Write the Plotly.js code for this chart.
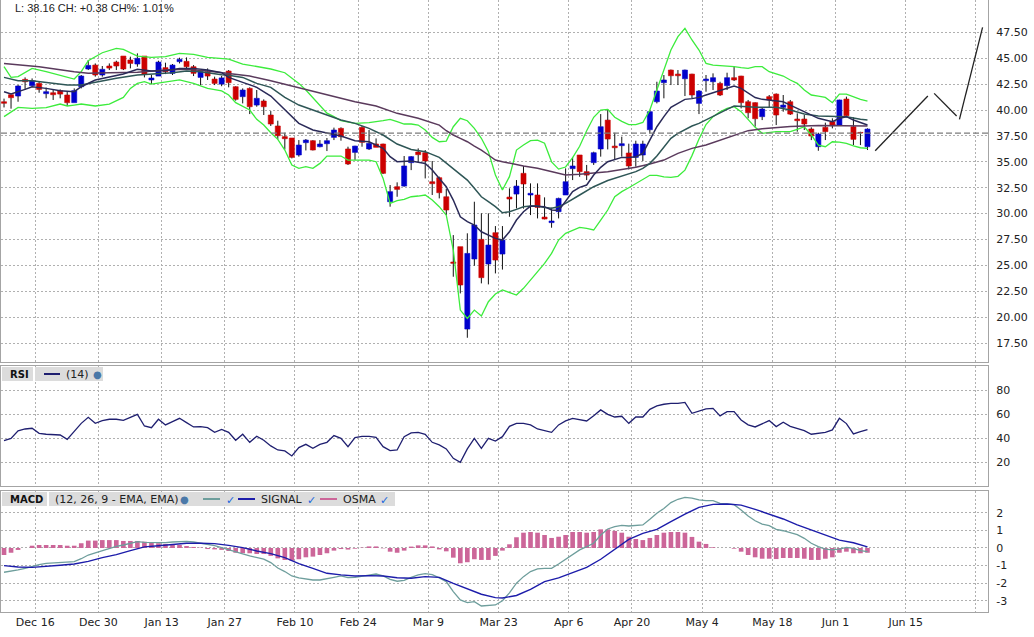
<!DOCTYPE html>
<html>
<head>
<meta charset="utf-8">
<script src="https://cdn.plot.ly/plotly-3.0.1.min.js"></script>
<style>
  html, body { margin: 0; padding: 0; background: #fff; }
  #chart { width: 1034px; height: 637px; }
</style>
</head>
<body>
<div id="chart"></div>
<script>
// daily candles, Dec 10 2019 .. Jun 8 2020 (one entry per trading day)
const opens = [40.8,41.48,41.35,42.96,42.35,42.57,41.58,41.67,41.87,41.45,
  40.71,42.25,43.96,44.34,43.38,44.25,44.63,45.21,44.83,44.44,
  45.21,42.9,43.28,44.09,43.54,44.67,44.7,44.18,43.15,43.7,
  42.99,42.5,43.76,42.25,41.29,42.09,40.48,40.87,39.52,38.46,
  37.43,37.3,35.66,36.85,37.04,36.46,36.75,37.36,38.23,36.24,
  35.91,38.33,36.24,36.72,36.72,31.15,32.6,32.66,34.92,35.95,
  35.88,33.08,33.47,31.63,25.33,26.81,18.86,25.62,27.52,25.14,
  28.16,26.1,31.6,31.89,33.89,31.8,31.8,29.67,29.13,30.19,
  31.8,34.34,35.66,34.05,34.92,36.24,39.03,36.52,36.56,35.85,
  35.43,35.66,38.1,40.8,42.64,43.86,43.47,43.02,43.47,40.64,
  42.83,42.73,42.57,42.35,43.12,43.28,40.8,40.71,39.36,41.29,
  41.54,40.26,40.8,39.13,39.13,38.17,36.46,38.33,38.87,38.55,
  41.06,38.39,37.84,36.46];
const highs = [41.1,41.5,42.41,43.15,43.05,42.73,42.16,41.93,41.99,41.77,
  42.09,43.38,44.83,44.5,44.25,44.5,44.76,45.21,45.15,45.47,
  45.21,43.38,44.76,44.57,44.44,45.05,45.08,44.34,43.86,44.02,
  43.22,43.3,43.86,42.3,42.09,42.19,41.93,41.03,39.9,38.97,
  37.81,37.3,37.1,37.2,37.1,37.1,37.3,38.3,38.33,36.46,
  36.55,38.46,38.07,37.26,36.75,32.76,33.02,35.56,35.56,36.3,
  36.14,35.08,33.57,32.4,27.93,26.81,28.1,31.15,30.03,30.03,
  28.8,28.8,32.44,33.24,34.6,32.92,32.92,31.57,30.57,31.54,
  34.37,35.43,35.66,34.7,35.98,39.61,40.1,37.81,37.43,36.75,
  37.04,37.04,40.03,42.73,43.38,43.9,43.86,43.9,43.5,41.93,
  43.38,43.54,42.73,43.6,44.25,43.3,40.97,40.75,40.26,41.45,
  41.6,41.45,40.97,39.68,39.52,38.33,37.81,38.78,39.2,41.0,
  41.29,39.29,37.9,38.23];
const lows = [40.25,40.13,40.8,41.93,42.25,41.67,41.13,40.97,41.13,40.39,
  40.7,42.09,43.86,43.22,43.22,43.86,43.86,43.86,44.02,44.18,
  43.15,42.51,43.28,43.47,43.38,44.5,43.93,43.28,42.41,42.9,
  42.41,42.3,42.19,40.9,40.64,39.61,40.32,39.52,38.46,37.17,
  36.2,35.33,35.5,36.1,36.1,36.4,36.04,37.1,37.04,34.7,
  35.17,36.46,36.14,36.4,33.82,30.67,31.63,32.6,34.2,35.0,
  33.4,31.8,31.47,29.86,23.91,22.3,18.02,24.97,23.27,23.17,
  24.23,24.6,29.7,30.5,30.48,29.86,29.54,29.45,28.64,29.54,
  31.8,33.24,33.56,33.24,34.7,35.5,36.2,35.24,35.5,34.27,
  34.53,35.08,37.75,40.64,41.13,42.41,42.41,41.35,41.13,39.61,
  41.77,41.93,41.35,41.93,42.8,40.16,39.2,38.39,39.03,40.26,
  38.55,39.84,39.52,37.91,38.07,37.1,36.07,37.1,38.23,38.46,
  39.36,36.62,36.62,36.14];
const closes = [40.65,41.19,42.32,42.73,42.83,41.99,41.77,41.48,41.54,40.71,
  41.87,43.28,44.31,43.38,43.93,44.05,44.25,43.96,44.5,44.99,
  43.47,43.09,44.63,43.7,44.34,44.89,44.18,43.54,43.7,43.28,
  42.57,43.1,42.64,41.03,41.93,40.32,41.13,40.32,38.65,37.52,
  37.23,35.43,36.62,37.1,36.14,36.72,37.04,38.07,37.43,34.79,
  36.52,36.88,36.78,36.4,33.89,32.12,32.34,34.6,35.5,35.69,
  35.08,32.89,32.02,30.35,25.2,23.11,26.16,28.9,23.82,26.97,
  25.52,27.45,31.41,32.66,32.86,31.96,30.6,29.48,29.29,31.47,
  33.08,34.6,34.05,33.72,35.88,38.39,37.2,36.36,36.75,34.6,
  36.72,36.72,39.84,41.83,42.9,43.31,43.31,43.86,41.45,41.83,
  42.99,43.12,41.45,43.12,42.9,40.71,39.74,39.16,40.1,40.97,
  39.52,40.48,39.61,38.97,38.65,37.49,37.68,37.91,38.49,40.97,
  39.45,37.17,37.78,38.16];

// overlay lines (candle index -> value)
function range(a, b) { const r = []; for (let i = a; i <= b; i++) r.push(i); return r; }

const bbUpperIdx = [0,1,2,4,6,8,10,11,12,14,16,17,19,21,23,25,27,29,31,32,34,36,38,40,42,43,44,46,47,48,50,52].concat(range(54, 123));
const bbUpper = [44.18,43.15,43.22,44.02,43.7,43.38,42.99,43.7,44.76,45.53,45.95,45.86,45.21,45.08,45.15,45.47,45.37,45.08,44.97,44.92,44.44,44.18,43.96,43.6,42.57,41.93,41.22,39.7,39.36,38.97,38.71,38.78,
  38.97,39.1,38.87,38.65,38.65,38.55,38.07,37.36,36.94,37.0,
  38.39,39.2,38.97,38.23,37.27,35.98,33.73,32.28,33.57,36.14,
  36.62,37.04,37.1,36.8,35.0,34.3,34.5,35.4,36.5,38.0,
  39.3,40.0,40.06,39.3,38.9,38.6,38.6,38.8,40.0,42.0,
  43.86,45.79,47.08,47.88,46.76,45.79,44.5,44.34,44.28,44.25,
  44.18,44.09,44.02,44.18,44.18,43.7,43.47,43.28,42.9,42.57,
  41.93,41.45,41.35,41.22,40.71,41.54,41.54,41.29,41.03,40.87];

const bbLowerIdx = [0,1,2,4,6,8,9,10,11,13,15,17,18,19,20,21,23,25,27,28,29,31,32,33,34,35,36,37,38,39,40,41,42,43,44,45,46,48,49,52,53].concat(range(54, 123));
const bbLower = [39.36,39.84,40.26,40.16,40.23,40.58,40.39,40.48,40.58,40.39,40.58,41.22,42.09,42.57,42.73,42.51,42.73,42.9,42.57,42.32,42.09,41.85,41.45,40.71,40.39,40.0,39.1,38.55,37.81,37.17,36.14,34.69,34.37,34.53,34.37,34.85,35.56,35.56,35.17,35.17,35.01,
  33.4,30.99,31.25,31.38,31.63,31.7,31.8,31.31,30.67,29.85,
  26.49,20.69,19.89,20.69,20.12,21.5,22.24,22.63,22.37,22.14,
  22.79,23.59,24.4,25.2,26.16,27.45,28.1,28.35,28.67,28.58,
  28.42,29.38,30.35,31.63,32.12,32.5,32.9,33.3,33.7,33.7,
  33.55,33.5,33.6,34.2,35.6,37.2,38.6,39.36,39.84,40.16,
  40.32,39.84,39.1,38.33,37.75,37.84,37.91,37.91,37.91,38.13,
  38.39,37.59,36.62,36.46,36.94,36.91,36.78,36.53,36.36,36.3];

const maFastIdx = [0,1,3,4,6,8,10,11,13,15,17,19,21,23,25,27,29,31,32,34,36,38,40,42,44,46,48,50,52,54,55,56,58,60].concat(range(61, 123));
const maFast = [41.77,41.54,41.99,42.25,42.09,41.87,41.77,42.25,42.9,43.22,43.47,43.93,43.76,43.8,44.02,44.02,43.86,43.6,43.15,42.67,42.19,41.35,40.06,38.71,38.07,37.81,37.49,37.04,36.94,36.3,35.5,35.01,35.08,34.85,
  34.21,33.4,32.6,31.31,29.7,29.22,28.9,28.25,27.93,27.61,
  27.45,28.25,29.38,30.19,30.73,30.73,30.67,30.35,30.3,31.2,
  32.12,32.54,32.76,33.73,34.47,35.01,35.24,35.43,35.43,35.5,
  35.82,37.1,38.39,39.36,40.26,40.64,41.03,41.1,41.22,41.45,
  41.67,41.87,42.09,42.32,42.09,41.61,41.2,41.03,40.97,40.9,
  40.8,40.48,40.16,39.84,39.52,39.2,39.03,38.87,39.2,39.36,
  39.03,38.78,38.55];

const maMidIdx = [0,2,4,7,9,11,14,16,19,21,24,26,28,31,32,34,36,38,40,42,44,46,48,50,52,54,56,58,60,62].concat(range(63, 80), [82,84,86,88,90], range(91, 108), [110,112,114,116,118,120,122,123]);
const maMid = [43.15,42.83,42.83,42.57,42.41,42.41,42.83,43.06,43.38,43.44,43.6,43.76,43.7,43.4,43.35,43.15,42.57,42.19,41.22,40.48,40.0,39.52,39.03,38.71,38.23,37.59,36.72,36.2,35.98,35.43,
  34.9,34.37,33.82,33.24,32.44,31.63,31.15,30.67,30.09,30.19,30.41,30.67,30.73,30.73,30.6,30.51,30.67,30.99,
  31.8,32.6,33.2,33.6,34.05,
  34.37,34.85,35.56,36.4,37.27,37.75,38.13,38.46,38.71,39.03,39.36,39.74,40.06,40.39,40.32,40.32,40.26,40.26,
  40.26,40.0,39.61,39.42,39.36,39.36,39.1,39.03];

const maSlowIdx = [0,5,10,12,15,19,23,26,29,32,35,38,41,44,47,50,53,56,59,62,63,64,65,66,67,68,69,70,71,72,74,76,78,80,82,84,86,88,90,92,94,96,98,100,102,104,106,108,112,116,120,123];
const maSlow = [44.5,44.18,43.7,43.54,43.6,43.64,43.86,43.93,43.76,43.5,43.28,42.83,42.32,41.77,41.29,40.8,40.39,39.68,39.2,38.55,38.0,37.59,37.27,36.94,36.52,36.14,35.66,35.17,35.01,34.85,34.6,34.37,34.05,33.73,33.79,33.89,34.05,34.27,34.47,34.79,35.17,35.82,36.3,36.62,37.1,37.59,38.01,38.2,38.4,38.5,38.5,38.45];

// drawn projection to the right of the last candle
const waveIdx = [124.1, 131.6, null, 132.5, 135.7, null, 136.1, 139.4];
const wavePrice = [36.07, 41.35, null, 41.61, 39.42, null, 39.1, 47.98];

// RSI (14)
const rsi = [38.2,40.1,46.3,47.9,48.5,44.3,43.5,43.5,42.9,39.3,
  46.3,52.6,57.6,52.6,54.9,56.0,56.0,55.1,57.6,60.1,
  50.4,49.0,56.0,51.3,54.0,56.8,53.2,49.6,49.9,49.0,
  45.1,47.6,45.1,38.5,43.5,36.8,41.8,38.5,33.8,30.4,
  29.6,25.4,32.4,35.1,31.8,35.1,36.8,42.4,40.1,33.2,
  40.7,41.8,41.8,41.0,33.2,29.9,30.4,41.5,44.6,45.1,
  43.5,36.8,34.6,31.3,23.5,20.1,31.3,40.1,31.8,40.1,
  37.9,41.5,50.1,52.6,52.6,51.3,47.9,46.3,45.1,51.3,
  54.6,56.8,55.4,54.6,59.0,63.8,60.1,57.9,58.5,52.6,
  57.9,57.9,64.3,67.1,68.5,69.3,69.3,70.1,61.0,62.9,
  64.6,65.1,58.8,62.4,62.4,55.4,51.3,49.6,52.6,54.9,
  49.9,53.5,50.1,48.5,46.5,43.5,44.0,45.1,47.1,56.8,
  52.4,43.8,45.7,47.4];

// MACD (12, 26, 9)
const macd = [-1.38,-1.33,-1.25,-1.16,-1.04,-0.95,-0.87,-0.85,-0.83,-0.81,
  -0.78,-0.61,-0.40,-0.28,-0.15,-0.02,0.09,0.17,0.27,0.36,
  0.32,0.30,0.30,0.30,0.34,0.38,0.38,0.34,0.28,0.21,
  0.13,0.02,-0.11,-0.25,-0.34,-0.45,-0.53,-0.63,-0.83,-1.14,
  -1.34,-1.59,-1.70,-1.78,-1.82,-1.82,-1.76,-1.67,-1.59,-1.69,
  -1.67,-1.61,-1.53,-1.48,-1.59,-1.78,-1.89,-1.84,-1.67,-1.53,
  -1.46,-1.52,-1.70,-1.91,-2.48,-2.95,-3.11,-3.05,-3.30,-3.28,
  -3.24,-3.0,-2.55,-2.0,-1.63,-1.34,-1.19,-1.16,-1.16,-0.91,
  -0.63,-0.34,-0.11,0.08,0.27,0.74,1.08,1.21,1.29,1.25,
  1.27,1.31,1.63,1.97,2.25,2.58,2.77,2.88,2.84,2.73,
  2.69,2.69,2.54,2.50,2.46,2.16,1.82,1.55,1.36,1.27,
  1.06,0.98,0.89,0.76,0.55,0.27,0.08,-0.06,-0.11,-0.06,
  0.04,-0.02,-0.15,-0.21];
const signalIdx = [0,2,4,6,8,10,12,14,16,18,20,22,24,26,28,30,32,34,36,38,40,42,44,46,48,50,52,54,56,58,60,62,64,66,68,70,71,73,75,77,79,81,83,85,87,89,91,93,95,97,99,101,103,105,107,109,111,113,115,117,119,121,123];
const signal = [-1.00,-1.08,-1.10,-1.02,-0.98,-0.91,-0.76,-0.55,-0.38,-0.15,0.06,0.13,0.19,0.27,0.27,0.25,0.15,0.02,-0.17,-0.32,-0.55,-0.89,-1.16,-1.44,-1.53,-1.59,-1.57,-1.59,-1.69,-1.72,-1.63,-1.67,-2.01,-2.33,-2.63,-2.82,-2.84,-2.7,-2.35,-1.91,-1.70,-1.40,-1.10,-0.64,-0.08,0.49,0.83,1.06,1.50,1.93,2.31,2.48,2.50,2.44,2.20,1.91,1.65,1.31,1.02,0.70,0.45,0.30,0.06];
const osma = [-0.40,-0.27,-0.11,0.0,0.13,0.17,0.17,0.17,0.17,0.13,
  0.13,0.27,0.42,0.42,0.45,0.45,0.45,0.40,0.40,0.40,
  0.36,0.30,0.27,0.23,0.19,0.17,0.11,0.06,0.02,-0.06,
  -0.08,-0.11,-0.17,-0.27,-0.30,-0.30,-0.34,-0.34,-0.45,-0.59,
  -0.68,-0.72,-0.64,-0.53,-0.49,-0.40,-0.30,-0.15,-0.06,-0.09,
  -0.04,0.02,0.09,0.09,-0.02,-0.21,-0.27,-0.15,0.08,0.15,
  0.15,0.09,-0.08,-0.19,-0.55,-0.87,-0.81,-0.64,-0.68,-0.68,
  -0.45,-0.15,0.21,0.61,0.87,0.91,0.87,0.74,0.57,0.64,
  0.74,0.91,0.91,0.87,0.91,1.06,1.06,0.97,0.87,0.64,
  0.51,0.45,0.57,0.74,0.87,0.91,0.91,0.87,0.63,0.36,
  0.23,0.04,0.0,0.0,-0.04,-0.21,-0.40,-0.53,-0.61,-0.61,
  -0.63,-0.57,-0.57,-0.57,-0.61,-0.68,-0.68,-0.61,-0.53,-0.27,
  -0.21,-0.30,-0.30,-0.27];

// x axis: candle index of each labelled date (Jun 15 / Jun 29 lie past the data)
const tickIdx = [4, 13, 22, 31, 41, 50, 60, 70, 80, 89, 99, 109, 118, 128, 138];
const tickText = ["Dec 16", "Dec 30", "Jan 13", "Jan 27", "Feb 10", "Feb 24", "Mar 9", "Mar 23",
  "Apr 6", "Apr 20", "May 4", "May 18", "Jun 1", "Jun 15", ""];

// right-hand tick labels
const priceTicks = [17.5, 20, 22.5, 25, 27.5, 30, 32.5, 35, 37.5, 40, 42.5, 45, 47.5];
const rsiTicks = [20, 40, 60, 80];
const macdTicks = [-3, -2, -1, 0, 1, 2];

// ---------------------------------------------------------------

const idx = opens.map((_, i) => i);
const last = closes[closes.length - 1];
const prevClose = closes[closes.length - 2];
const chg = last - prevClose;
const chgPct = chg / prevClose * 100;

const UP = "#0000cc", DOWN = "#cc0000";

// bodies
const bodyBase = [], bodyLen = [], bodyColor = [];
// wicks only outside the body
const wickX = [], wickY = [];
idx.forEach(i => {
  const top = Math.max(opens[i], closes[i]);
  const bot = Math.min(opens[i], closes[i]);
  bodyBase.push(bot);
  bodyLen.push(Math.max(top - bot, 0.06));
  bodyColor.push(closes[i] >= opens[i] ? UP : DOWN);
  if (highs[i] > top) { wickX.push(i, i, null); wickY.push(highs[i], top, null); }
  if (lows[i] < bot) { wickX.push(i, i, null); wickY.push(bot, lows[i], null); }
});

const tickPos = tickIdx.map(t => t + 0.45);

// pixel helpers for legend boxes (plot area is 987 x 612, left at x=1)
const px = v => (v - 1) / 987;
const py = v => (612 - v) / 612;

const traces = [
  { type: "bar", x: idx, y: bodyLen, base: bodyBase, width: 0.72,
    marker: { color: bodyColor, line: { color: bodyColor, width: 0.6 } },
    xaxis: "x", yaxis: "y", hoverinfo: "skip" },
  { type: "bar", x: idx, y: osma, width: 0.66,
    marker: { color: "#cc6699", line: { width: 0 } },
    xaxis: "x3", yaxis: "y3", hoverinfo: "skip" },
  { type: "scatter", mode: "lines", x: wickX, y: wickY,
    line: { color: "#111", width: 1 }, xaxis: "x", yaxis: "y", hoverinfo: "skip" },
  { type: "scatter", mode: "lines", x: bbUpperIdx, y: bbUpper,
    line: { color: "#3cec3c", width: 1.3 }, xaxis: "x", yaxis: "y" },
  { type: "scatter", mode: "lines", x: bbLowerIdx, y: bbLower,
    line: { color: "#3cec3c", width: 1.3 }, xaxis: "x", yaxis: "y" },
  { type: "scatter", mode: "lines", x: maSlowIdx, y: maSlow,
    line: { color: "#5a3a5c", width: 1.5 }, xaxis: "x", yaxis: "y" },
  { type: "scatter", mode: "lines", x: maMidIdx, y: maMid,
    line: { color: "#2e5656", width: 1.5 }, xaxis: "x", yaxis: "y" },
  { type: "scatter", mode: "lines", x: maFastIdx, y: maFast,
    line: { color: "#2a2a58", width: 1.5 }, xaxis: "x", yaxis: "y" },
  { type: "scatter", mode: "lines", x: waveIdx, y: wavePrice,
    line: { color: "#222", width: 1.3 }, xaxis: "x", yaxis: "y" },
  { type: "scatter", mode: "lines", x: idx, y: rsi,
    line: { color: "#1f1f70", width: 1.3 }, xaxis: "x2", yaxis: "y2" },
  { type: "scatter", mode: "lines", x: idx, y: macd,
    line: { color: "#6e9e9c", width: 1.3 }, xaxis: "x3", yaxis: "y3" },
  { type: "scatter", mode: "lines", x: signalIdx, y: signal,
    line: { color: "#1c1caa", width: 1.4 }, xaxis: "x3", yaxis: "y3" }
];

const gridBase = {
  showgrid: true, gridcolor: "#b0b0b0", gridwidth: 1, griddash: "2px,2px",
  showline: true, mirror: true, linecolor: "#a4a4a4", linewidth: 1,
  zeroline: false, fixedrange: true
};
const xBase = Object.assign({}, gridBase, {
  range: [-0.43, 140.17], tickmode: "array", tickvals: tickPos, ticktext: tickText, ticks: ""
});
const yBase = Object.assign({}, gridBase, {
  side: "right", ticks: "outside", ticklen: 5, tickcolor: "rgba(0,0,0,0)", tickmode: "array"
});

const checkFont = { family: "DejaVu Sans", size: 11, color: "#1a66dd" };
const globeFont = { family: "DejaVu Sans", size: 10, color: "#4a78a8" };
const ann = (x, y, text, font) => ({
  xref: "paper", yref: "paper", x: px(x), y: py(y), text: text, showarrow: false,
  xanchor: "left", yanchor: "middle", font: font
});

const layout = {
  width: 1034, height: 637,
  margin: { l: 1, r: 46, t: 0, b: 25 },
  paper_bgcolor: "#fff", plot_bgcolor: "#fff",
  font: { family: "DejaVu Sans", size: 11, color: "#222" },
  showlegend: false, hovermode: false, barmode: "overlay",
  xaxis: Object.assign({}, xBase, { anchor: "y", showticklabels: false }),
  xaxis2: Object.assign({}, xBase, { anchor: "y2", matches: "x", showticklabels: false }),
  xaxis3: Object.assign({}, xBase, { anchor: "y3", matches: "x", showticklabels: true }),
  yaxis: Object.assign({}, yBase, { domain: [0.4085, 1], range: [15.68, 50.62],
    tickvals: priceTicks, ticktext: priceTicks.map(v => v.toFixed(2)) }),
  yaxis2: Object.assign({}, yBase, { domain: [0.2059, 0.402], range: [0.4, 100.4],
    tickvals: rsiTicks, ticktext: rsiTicks.map(String) }),
  yaxis3: Object.assign({}, yBase, { domain: [0, 0.1977], range: [-3.64, 3.24],
    tickvals: macdTicks, ticktext: macdTicks.map(String) }),
  shapes: [
    { type: "line", xref: "paper", yref: "y", x0: 0, x1: 1, y0: prevClose, y1: prevClose,
      line: { color: "#7c7c7c", width: 1.2, dash: "6px,3px" } },
    // RSI caption
    { type: "rect", xref: "paper", yref: "paper", x0: px(2), x1: px(33), y0: py(381), y1: py(367),
      fillcolor: "#dcdcdc", line: { width: 0 } },
    { type: "rect", xref: "paper", yref: "paper", x0: px(35), x1: px(103), y0: py(381), y1: py(367),
      fillcolor: "#dcdcdc", line: { width: 0 } },
    { type: "line", xref: "paper", yref: "paper", x0: px(44), x1: px(60), y0: py(374), y1: py(374),
      line: { color: "#1f1f70", width: 2 } },
    // MACD caption
    { type: "rect", xref: "paper", yref: "paper", x0: px(2), x1: px(47), y0: py(506), y1: py(492),
      fillcolor: "#dcdcdc", line: { width: 0 } },
    { type: "rect", xref: "paper", yref: "paper", x0: px(49), x1: px(395), y0: py(506), y1: py(492),
      fillcolor: "#dcdcdc", line: { width: 0 } },
    { type: "line", xref: "paper", yref: "paper", x0: px(203), x1: px(220), y0: py(499), y1: py(499),
      line: { color: "#6e9e9c", width: 2 } },
    { type: "line", xref: "paper", yref: "paper", x0: px(238), x1: px(255), y0: py(499), y1: py(499),
      line: { color: "#1c1caa", width: 2 } },
    { type: "line", xref: "paper", yref: "paper", x0: px(320), x1: px(337), y0: py(499), y1: py(499),
      line: { color: "#cc6699", width: 2 } }
  ],
  annotations: [
    ann(13, 8, "L: " + last.toFixed(2) + " CH: " + (chg >= 0 ? "+" : "") + chg.toFixed(2) +
      " CH%: " + chgPct.toFixed(2) + "%", { family: "Liberation Sans", size: 11, color: "#222" }),
    ann(8, 374, "<b>RSI</b>", { family: "DejaVu Sans", size: 10, color: "#111" }),
    ann(64, 374, "(14)", { family: "DejaVu Sans", size: 11, color: "#222" }),
    ann(91, 374, "●", globeFont),
    ann(8, 499, "<b>MACD</b>", { family: "DejaVu Sans", size: 10, color: "#111" }),
    ann(53, 499, "(12, 26, 9 - EMA, EMA)", { family: "DejaVu Sans", size: 11, color: "#222" }),
    ann(178, 499, "●", globeFont),
    ann(224, 500, "<b>✓</b>", checkFont),
    ann(259, 499, "SIGNAL", { family: "DejaVu Sans", size: 11, color: "#222" }),
    ann(305, 500, "<b>✓</b>", checkFont),
    ann(341, 499, "OSMA", { family: "DejaVu Sans", size: 11, color: "#222" }),
    ann(378, 500, "<b>✓</b>", checkFont)
  ]
};

Plotly.newPlot("chart", traces, layout, { displayModeBar: false, staticPlot: true });
</script>
</body>
</html>
